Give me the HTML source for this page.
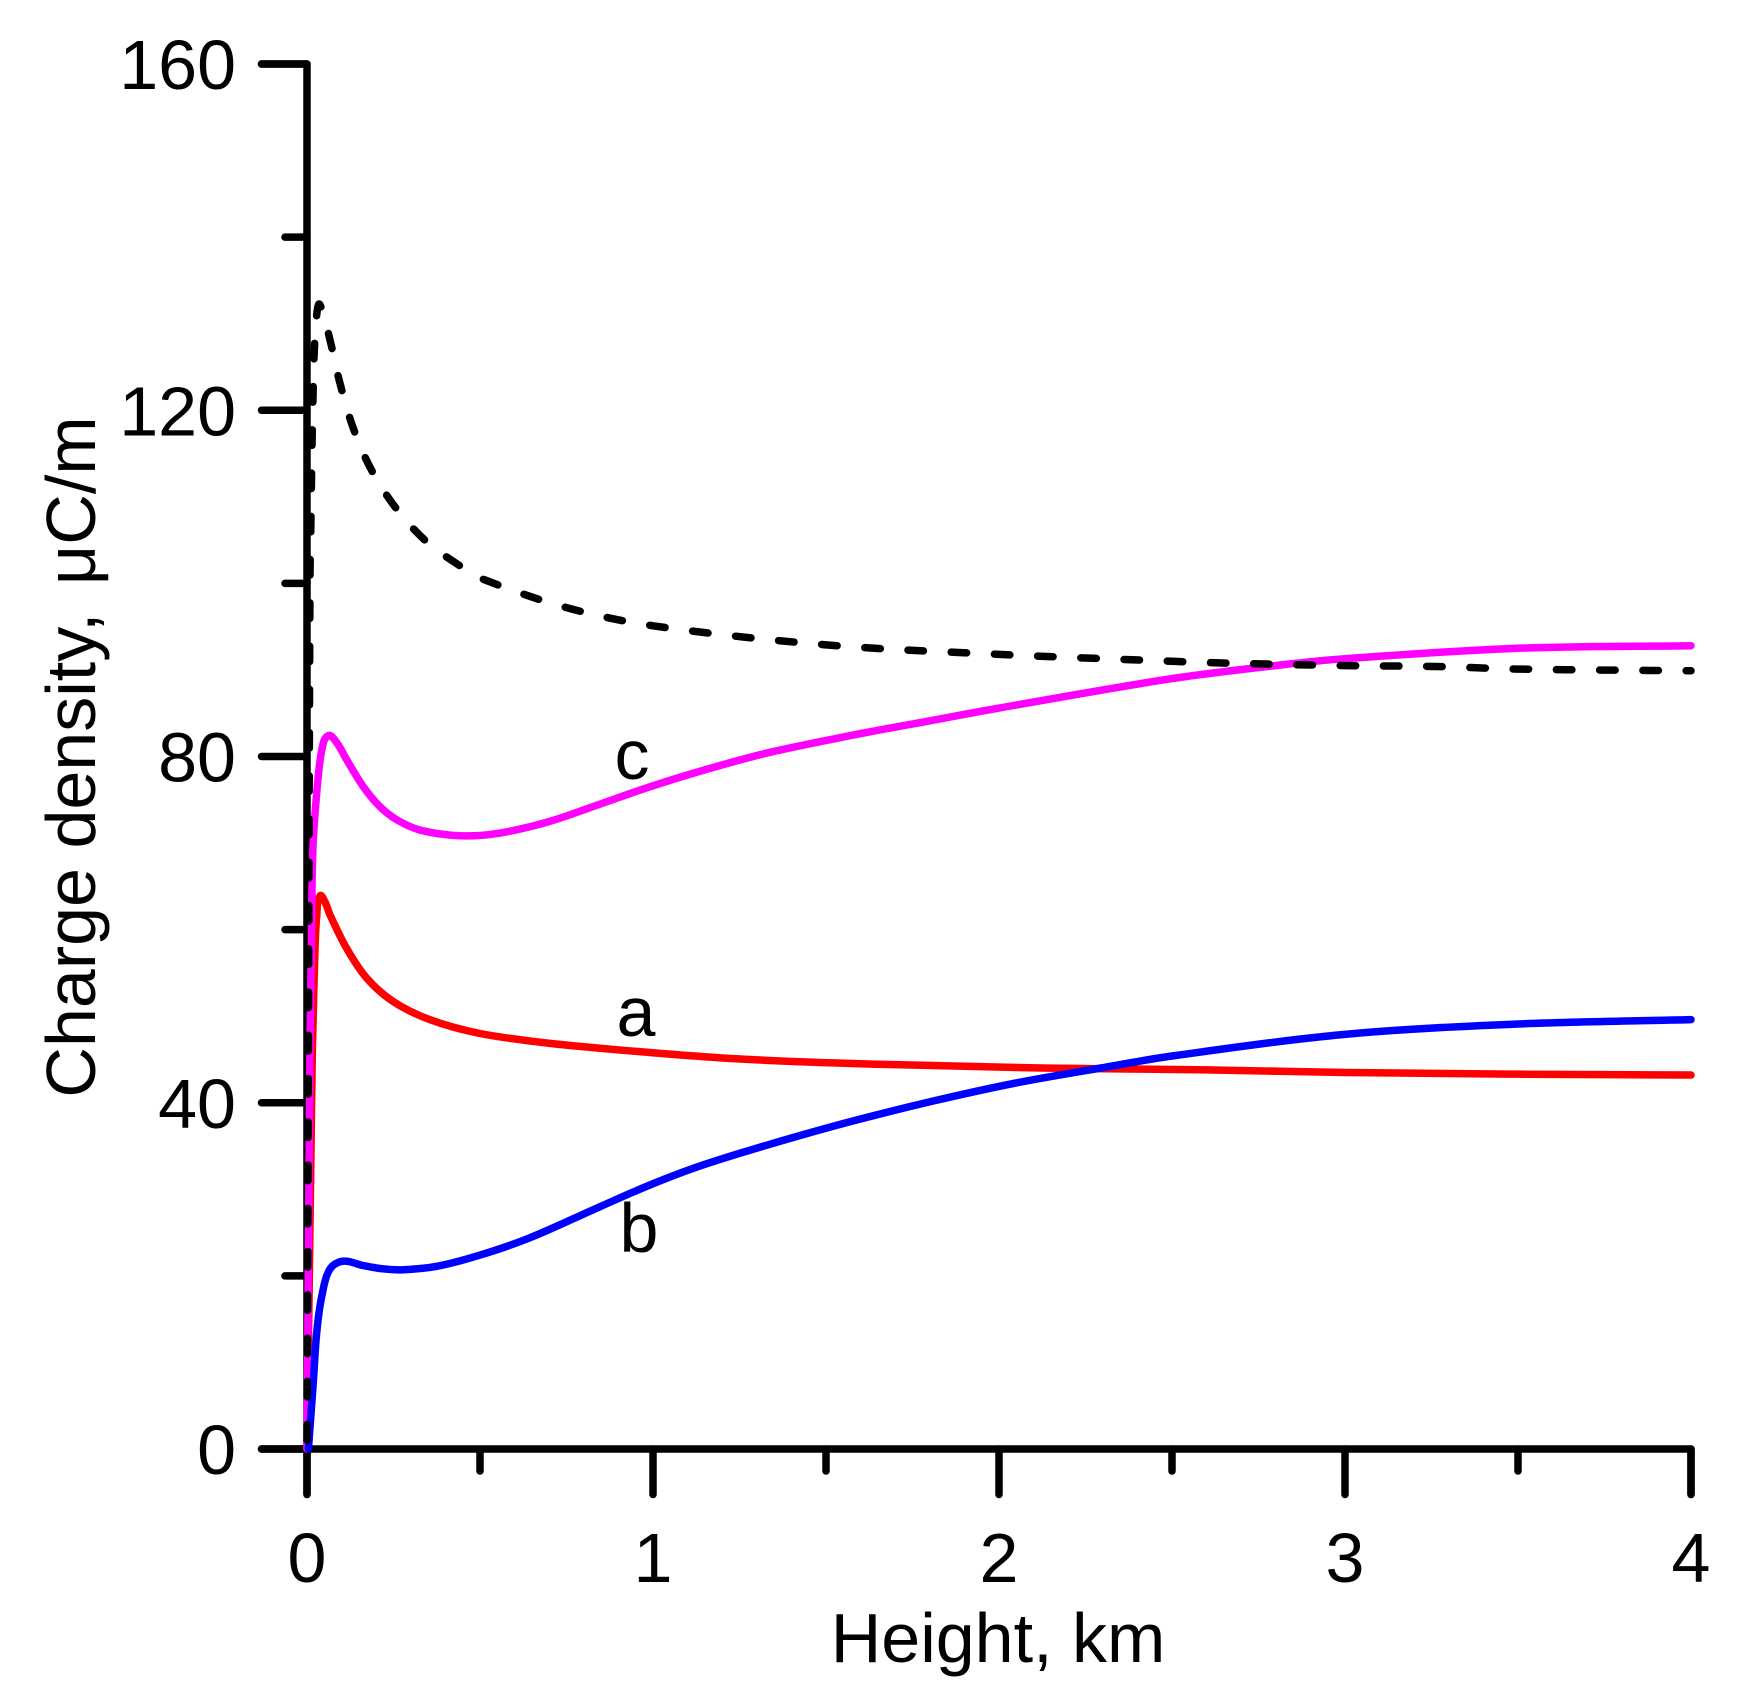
<!DOCTYPE html>
<html lang="en">
<head>
<meta charset="utf-8">
<title>Charge density vs height</title>
<style>
  html, body { margin: 0; padding: 0; background: #fff; }
  svg { display: block; }
  text { font-family: "Liberation Sans", sans-serif; font-size: 70px; fill: #000; }
</style>
</head>
<body>
<svg id="chart" xmlns="http://www.w3.org/2000/svg" width="1748" height="1700" viewBox="0 0 1748 1700">
  <g id="axes"></g>
  <g id="series"></g>
  <g id="labels"></g>
  <text x="632" y="779" text-anchor="middle">c</text>
  <text x="636" y="1036" text-anchor="middle">a</text>
  <text x="639" y="1252" text-anchor="middle">b</text>
  <text x="998" y="1662" text-anchor="middle">Height, km</text>
  <text transform="translate(95,757) rotate(-90)" text-anchor="middle">Charge density, <tspan dx="8">&#956;C/m</tspan></text>
</svg>
<script>
// Axis ticks
const xMajorTicks = [0, 1, 2, 3, 4];
const xMinorTicks = [0.5, 1.5, 2.5, 3.5];
const yMajorTicks = [0, 40, 80, 120, 160];
const yMinorTicks = [20, 60, 100, 140];

// Curve a (red)
const heightsA = [0, 0.004, 0.0094, 0.0116, 0.0155, 0.018, 0.023, 0.028, 0.0376, 0.052, 0.0665, 0.115, 0.1725, 0.249, 0.355, 0.5, 0.693, 0.847, 0.991, 1.232, 1.52, 1.81, 2.147, 2.6, 3, 3.5, 4];
const densityA = [0, 12, 28, 34.5, 46, 50, 57.6, 61.5, 63.9, 63.2, 61.7, 57.8, 54.4, 51.7, 49.6, 48, 46.9, 46.3, 45.8, 45.1, 44.6, 44.3, 44, 43.8, 43.5, 43.3, 43.2];

// Curve b (blue)
const heightsB = [0.004, 0.0087, 0.018, 0.028, 0.0425, 0.0665, 0.105, 0.162, 0.211, 0.274, 0.375, 0.5, 0.644, 0.847, 0.991, 1.136, 1.329, 1.569, 1.81, 2.051, 2.292, 2.5, 3, 3.5, 4];
const densityB = [0, 2.5, 7.6, 13.4, 17.6, 20.8, 21.7, 21.2, 20.85, 20.7, 21.1, 22.4, 24.4, 28, 30.5, 32.7, 35.1, 37.8, 40.2, 42.3, 44, 45.4, 47.9, 49.1, 49.6];

// Curve c (magenta)
const heightsC = [0, 0.0085, 0.0125, 0.017, 0.029, 0.043, 0.061, 0.086, 0.115, 0.163, 0.211, 0.259, 0.327, 0.442, 0.548, 0.693, 0.847, 0.991, 1.136, 1.329, 1.569, 1.81, 2, 2.5, 2.82, 3, 3.5, 4];
const densityC = [0, 46, 57.7, 69.2, 76.2, 80.8, 82.4, 81.6, 79.6, 76.5, 74.2, 72.7, 71.5, 70.85, 71.1, 72.4, 74.5, 76.5, 78.3, 80.4, 82.4, 84.2, 85.6, 89, 90.6, 91.3, 92.5, 92.8];

// Dashed reference curve
const heightsD = [0, 0.0025, 0.004, 0.0087, 0.0107, 0.0125, 0.0145, 0.0173, 0.021, 0.028, 0.037, 0.0665, 0.0954, 0.134, 0.185, 0.257, 0.346, 0.447, 0.514, 0.75, 1, 1.5, 2, 2.5, 2.645, 3, 3.26, 3.5, 4];
const densityD = [0, 25, 46, 100.8, 105.4, 110.8, 116, 121.4, 126.8, 131, 132.2, 128.1, 123.1, 117.9, 113.2, 108.7, 104.8, 101.9, 100.4, 97.2, 95.1, 92.9, 91.8, 91, 90.8, 90.5, 90.4, 90.1, 89.9];

const NS = 'http://www.w3.org/2000/svg';
const xAxis = v => 307 + v * (1691 - 307) / 4;
const yAxis = v => 1449 - v * (1449 - 64) / 160;

const axes = document.getElementById('axes');
const series = document.getElementById('series');
const labels = document.getElementById('labels');

function addPath(parent, d, stroke, width) {
  const p = document.createElementNS(NS, 'path');
  p.setAttribute('d', d);
  p.setAttribute('fill', 'none');
  p.setAttribute('stroke', stroke);
  p.setAttribute('stroke-width', width);
  p.setAttribute('stroke-linecap', 'round');
  p.setAttribute('stroke-linejoin', 'round');
  parent.appendChild(p);
  return p;
}

function addLabel(x, y, anchor, str) {
  const t = document.createElementNS(NS, 'text');
  t.setAttribute('x', x);
  t.setAttribute('y', y);
  t.setAttribute('text-anchor', anchor);
  t.textContent = str;
  labels.appendChild(t);
  return t;
}

// Smooth path through the data points; handle lengths follow local chord length
function curvePath(xs, ys) {
  const pts = xs.map((v, i) => [xAxis(v), yAxis(ys[i])]);
  const tangents = pts.map((p, i) => {
    const a = pts[Math.max(i - 1, 0)];
    const b = pts[Math.min(i + 1, pts.length - 1)];
    const dx = b[0] - a[0], dy = b[1] - a[1];
    const len = Math.hypot(dx, dy) || 1;
    return [dx / len, dy / len];
  });
  let d = 'M' + pts[0][0].toFixed(2) + ',' + pts[0][1].toFixed(2);
  for (let i = 0; i < pts.length - 1; i++) {
    const p = pts[i], q = pts[i + 1];
    const h = Math.hypot(q[0] - p[0], q[1] - p[1]) / 3;
    d += 'C' + (p[0] + tangents[i][0] * h).toFixed(2) + ',' + (p[1] + tangents[i][1] * h).toFixed(2) +
         ' ' + (q[0] - tangents[i + 1][0] * h).toFixed(2) + ',' + (q[1] - tangents[i + 1][1] * h).toFixed(2) +
         ' ' + q[0].toFixed(2) + ',' + q[1].toFixed(2);
  }
  return d;
}

const AXW = 7.5, MAJOR = 45.5, MINOR = 22, CURVEW = 7.5;

// Y axis spine with top tick
const ySpine = addPath(axes, 'M' + (xAxis(0) - MAJOR) + ',' + yAxis(160) + 'L' + xAxis(0) + ',' + yAxis(160) + 'L' + xAxis(0) + ',' + (yAxis(0) + MAJOR), '#000', AXW);



// X axis spine with right tick
const xSpine = addPath(axes, 'M' + (xAxis(0) - MAJOR) + ',' + yAxis(0) + 'L' + xAxis(4) + ',' + yAxis(0) + 'L' + xAxis(4) + ',' + (yAxis(0) + MAJOR), '#000', AXW);



yMajorTicks.forEach(v => {
  const t = addPath(axes, 'M' + (xAxis(0) - MAJOR) + ',' + yAxis(v) + 'H' + xAxis(0), '#000', AXW);
  
  
  const l = addLabel(236, yAxis(v) + 25, 'end', String(v));
  
  
});
yMinorTicks.forEach(v => {
  const t = addPath(axes, 'M' + (xAxis(0) - MINOR) + ',' + yAxis(v) + 'H' + xAxis(0), '#000', AXW);
  
  
});
xMajorTicks.forEach(v => {
  const t = addPath(axes, 'M' + xAxis(v) + ',' + yAxis(0) + 'V' + (yAxis(0) + MAJOR), '#000', AXW);
  
  
  const l = addLabel(xAxis(v), 1582, 'middle', String(v));
  
  
});
xMinorTicks.forEach(v => {
  const t = addPath(axes, 'M' + xAxis(v) + ',' + yAxis(0) + 'V' + (yAxis(0) + MINOR), '#000', AXW);
  
  
});

const lineA = addPath(series, curvePath(heightsA, densityA), '#ff0000', CURVEW);



const lineC = addPath(series, curvePath(heightsC, densityC), '#ff00ff', CURVEW);



const lineB = addPath(series, curvePath(heightsB, densityB), '#0000ff', CURVEW);



const lineD = addPath(series, curvePath(heightsD, densityD), '#000000', CURVEW);


// Dash phase chosen so the pattern finishes with a short dot at the right end of the curve
const dashPeriod = 43.25;
const dashLength = lineD.getTotalLength();
lineD.setAttribute('stroke-dasharray', '15.5 27.75');
lineD.setAttribute('stroke-dashoffset', String(((5 - dashLength) % dashPeriod + dashPeriod) % dashPeriod));
</script>
</body>
</html>
